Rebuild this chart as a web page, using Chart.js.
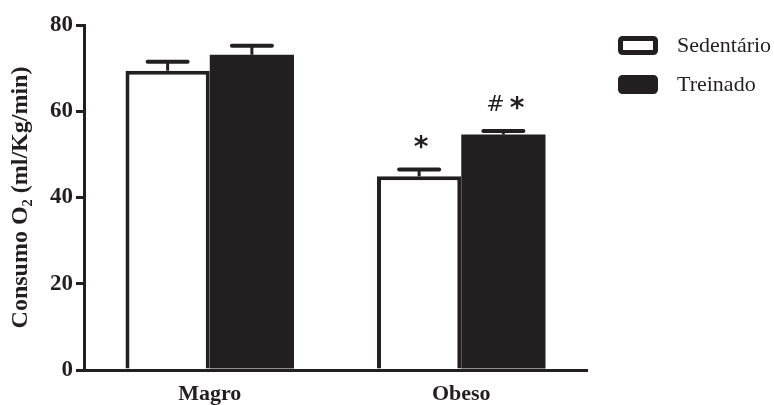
<!DOCTYPE html>
<html>
<head>
<meta charset="utf-8">
<script src="https://cdn.jsdelivr.net/npm/chart.js@4.4.0/dist/chart.umd.min.js"></script>
<style>body{margin:0;background:#fff}</style>
</head>
<body>
<canvas id="myChart" width="774" height="405"></canvas>
<script>
const categories = ['Magro', 'Obeso']
const seriesNames = ['Sedentário', 'Treinado']
const sedentario = [69.4, 44.9]
const treinado = [73.1, 54.6]
const sedentarioErr = [2.1, 1.6]
const treinadoErr = [2.1, 0.8]
const sedentarioMarks = ['', '*']
const treinadoMarks = ['', '# *']
const yTicks = [0, 20, 40, 60, 80]

const ink = '#231f20'
const serif = "'Liberation Serif', 'Times New Roman', serif"

// draw a mark string char by char: asterisks heavy, the rest light
function drawMark(ctx, text, cx, cy) {
  const fontFor = ch => (ch === '*' ? "bold 28px 'DejaVu Sans'" : "22px 'DejaVu Sans'")
  let total = 0
  for (const ch of text) {
    ctx.font = fontFor(ch)
    total += ch === ' ' ? 5 : ctx.measureText(ch).width
  }
  let x = cx - total / 2
  ctx.textAlign = 'left'
  for (const ch of text) {
    ctx.font = fontFor(ch)
    const w = ch === ' ' ? 5 : ctx.measureText(ch).width
    if (ch === '*') {
      ctx.textBaseline = 'top'
      ctx.fillText(ch, x, cy - 9)
    } else if (ch !== ' ') {
      ctx.textBaseline = 'middle'
      ctx.fillText(ch, x, cy)
    }
    x += w
  }
}

// error bars (upper only) + significance marks
const errorBars = {
  id: 'errorBars',
  afterDatasetsDraw(chart) {
    const ctx = chart.ctx
    const y = chart.scales.y
    chart.data.datasets.forEach((ds, i) => {
      chart.getDatasetMeta(i).data.forEach((bar, j) => {
        const top = y.getPixelForValue(ds.data[j] + ds.errors[j])
        ctx.save()
        ctx.strokeStyle = ink
        ctx.lineWidth = 3
        ctx.beginPath()
        ctx.moveTo(bar.x, bar.y)
        ctx.lineTo(bar.x, top)
        ctx.stroke()
        ctx.lineWidth = 4
        ctx.lineCap = 'round'
        ctx.beginPath()
        ctx.moveTo(bar.x - 20, top)
        ctx.lineTo(bar.x + 20, top)
        ctx.stroke()
        if (ds.marks[j]) {
          ctx.fillStyle = ink
          drawMark(ctx, ds.marks[j], bar.x + 2, top - 26)
        }
        ctx.restore()
      })
    })
  },
}

// legend drawn to the right of the plot
const sideLegend = {
  id: 'sideLegend',
  afterDraw(chart) {
    const ctx = chart.ctx
    chart.data.datasets.forEach((ds, i) => {
      const top = 36 + i * 39
      ctx.save()
      ctx.fillStyle = ds.backgroundColor
      ctx.strokeStyle = ds.borderColor
      ctx.lineWidth = 5
      ctx.beginPath()
      ctx.roundRect(620.5, top + 2.5, 35, 14, 2)
      ctx.fill()
      ctx.stroke()
      ctx.fillStyle = ink
      ctx.font = '22px ' + serif
      ctx.textBaseline = 'middle'
      ctx.fillText(ds.label, 677, top + 10)
      ctx.restore()
    })
  },
}

const ctx = document.getElementById('myChart')
const myChart = new Chart(ctx, {
  type: 'bar',
  data: {
    labels: categories,
    datasets: [
      {
        label: seriesNames[0],
        data: sedentario,
        errors: sedentarioErr,
        marks: sedentarioMarks,
        backgroundColor: '#ffffff',
        borderColor: ink,
        borderWidth: 4,
        borderSkipped: 'bottom',
      },
      {
        label: seriesNames[1],
        data: treinado,
        errors: treinadoErr,
        marks: treinadoMarks,
        backgroundColor: ink,
        borderColor: ink,
        borderWidth: 0,
      },
    ],
  },
  options: {
    responsive: false,
    animation: false,
    categoryPercentage: 0.67,
    barPercentage: 1.0,
    layout: { padding: { top: 25, right: 187, left: 0, bottom: 0 } },
    plugins: {
      legend: { display: false },
      tooltip: { enabled: false },
    },
    scales: {
      x: {
        grid: { display: false, drawTicks: false },
        border: { display: true, color: ink, width: 3 },
        ticks: { color: ink, font: { family: serif, size: 22, weight: 'bold' }, padding: 11 },
        afterFit: function (scale) { scale.height = 35 },
      },
      y: {
        min: 0,
        max: 80,
        afterBuildTicks: function (scale) { scale.ticks = yTicks.map(v => ({ value: v })) },
        grid: { display: true, drawOnChartArea: false, drawTicks: true, tickLength: 8, color: ink, lineWidth: 3 },
        border: { display: true, color: ink, width: 3 },
        ticks: { color: ink, font: { family: serif, size: 23, weight: 'bold' }, padding: 3 },
        title: {
          display: true,
          text: 'Consumo O₂ (ml/Kg/min)',
          color: ink,
          font: { family: serif, size: 24, weight: 'bold' },
          padding: { top: 6, bottom: 0 },
        },
        afterFit: function (scale) { scale.width = 84 },
      },
    },
  },
  plugins: [errorBars, sideLegend],
})
</script>
</body>
</html>
